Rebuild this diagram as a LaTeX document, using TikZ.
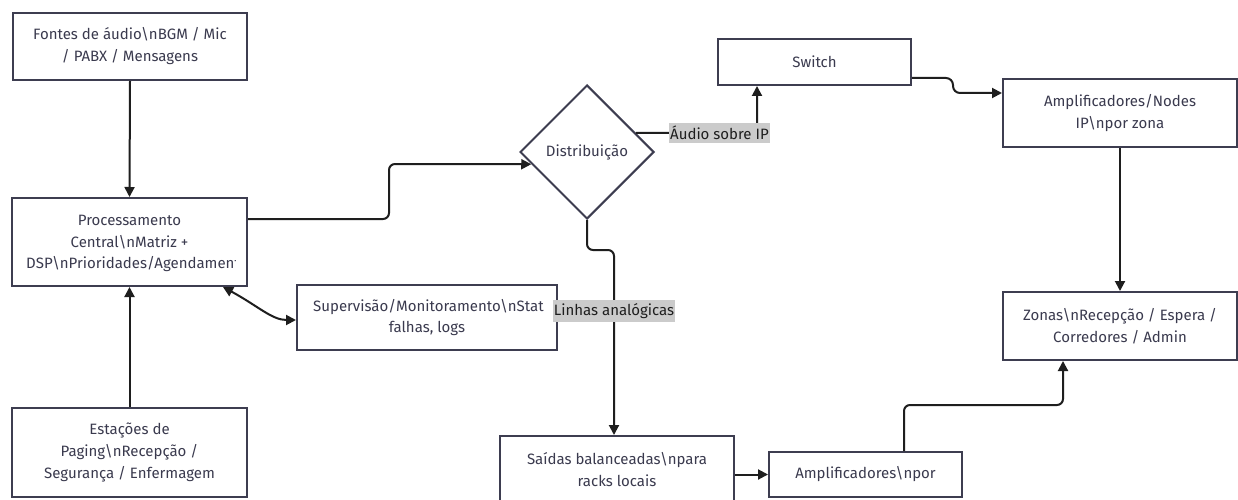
\documentclass[tikz,border=0pt]{standalone}
\usepackage{fontspec}
\setmainfont{Fira Sans}
\usetikzlibrary{arrows.meta,shapes.geometric,calc}
\definecolor{boxline}{HTML}{3D3D50}
\definecolor{txtc}{HTML}{3A3A4E}
\definecolor{edgec}{HTML}{1E1E1E}
\definecolor{lblbg}{HTML}{CBCBCB}
\begin{document}
\begin{tikzpicture}[x=1pt,y=-1pt,
  box/.style={draw=boxline,line width=2pt,fill=white,rectangle,inner sep=0pt,
    text=txtc,align=center,font=\fontsize{15}{22}\selectfont},
  txt/.style={text=txtc,inner sep=0pt,font=\fontsize{15}{22}\selectfont},
  dia/.style={draw=boxline,line width=2pt,fill=white,diamond,inner sep=0pt,
    text=txtc,font=\fontsize{15}{22}\selectfont},
  arr/.style={draw=edgec,line width=2pt,-{Triangle[length=10pt,width=10pt]},rounded corners=6pt},
  darr/.style={draw=edgec,line width=2pt,{Triangle[length=10pt,width=10pt]}-{Triangle[length=10pt,width=10pt]}},
  lbl/.style={fill=lblbg,text=edgec,sharp corners,inner xsep=1pt,inner ysep=3pt,font=\fontsize{15}{17}\selectfont},
]
\useasboundingbox (0,0) rectangle (1238,500);
\fill[white] (0,0) rectangle (1238,500);

% boxes
\node[box,minimum width=234pt,minimum height=67pt] (fontes) at (130,46.5)
  {Fontes de áudio\textbackslash nBGM / Mic\\/ PABX / Mensagens};
\node[box,minimum width=235pt,minimum height=88pt] (proc) at (129.5,242) {};
\begin{scope}
  \clip (25,200) rectangle (235,284);
  \node[txt] (proc1) at (129.5,220) {Processamento};
  \node[txt] (proc2) at (129.5,242) {Central\textbackslash nMatriz +};
  \node[txt,anchor=west] (proc3) at (26,264) {DSP\textbackslash nPrioridades/Agendamento};
\end{scope}
\node[box,minimum width=260pt,minimum height=65pt] (sup) at (427,317.5) {};
\begin{scope}
  \clip (305,287) rectangle (543,348);
  \node[txt,anchor=west] (sup1) at (313,307) {Supervisão/Monitoramento\textbackslash nStatus,};
  \node[txt] (sup2) at (427,328) {falhas, logs};
\end{scope}
\node[box,minimum width=235pt,minimum height=89pt] (est) at (129.5,452.5)
  {Estações de\\Paging\textbackslash nRecepção /\\Segurança / Enfermagem};
\node[dia,minimum width=134pt,minimum height=134pt] (dist) at (587,152) {Distribuição};
\node[box,minimum width=193pt,minimum height=46pt] (switch) at (814.5,62) {Switch};
\node[box,minimum width=234pt,minimum height=68pt] (ampip) at (1120,113)
  {Amplificadores/Nodes\\IP\textbackslash npor zona};
\node[box,minimum width=234pt,minimum height=68pt] (zonas) at (1120,326)
  {Zonas\textbackslash nRecepção / Espera /\\Corredores / Admin};
\node[box,minimum width=234pt,minimum height=68pt] (saidas) at (617,470)
  {Saídas balanceadas\textbackslash npara\\racks locais};
\node[box,minimum width=193pt,minimum height=45pt] (amppor) at (865.5,474.5)
  {Amplificadores\textbackslash npor};

% connectors
\draw[arr] (fontes.south) -- (proc.north);
\draw[arr] (est.north) -- (proc.south);
\draw[arr] ([yshift=23pt]proc.east) -- (389,219) -- (389,164) -- ($(dist.west)!0.18!(dist.south)$);
\draw[darr] ([xshift=-25pt]proc.south east) .. controls (258,306) and (272,320) .. ([yshift=-2.5pt]sup.west);
\draw[arr] ($(dist.north)!0.72!(dist.east)$) -- node[lbl,pos=0.69] (lblip) {Áudio sobre IP} (757,133) -- ([xshift=-57.5pt]switch.south);
\draw[arr] (dist.south) -- (587,250) -- (614,250) -- node[lbl,pos=0.33] (lblan) {Linhas analógicas} ([xshift=-3pt]saidas.north);
\draw[arr,rounded corners=7pt] ([yshift=-16pt]switch.east) -- (953,78) -- (953,93) -- ([yshift=20pt]ampip.west);
\draw[arr] (ampip.south) -- (zonas.north);
\draw[arr] (saidas.east |- amppor.west) -- (amppor.west);
\draw[arr] ([xshift=38.5pt]amppor.north) -- (904,405) -- (1063,405) -- ([xshift=-57pt]zonas.south);
\end{tikzpicture}
\end{document}
